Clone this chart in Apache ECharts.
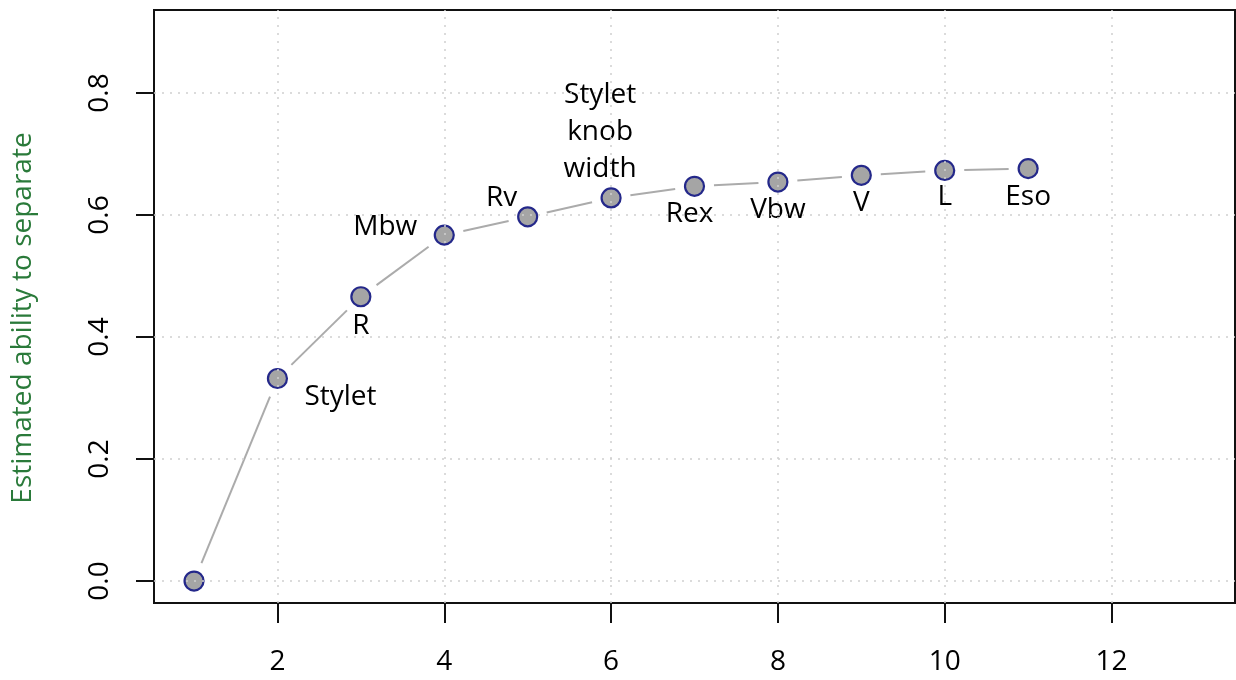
<!DOCTYPE html>
<html>
<head>
<meta charset="utf-8">
<script src="https://cdn.jsdelivr.net/npm/echarts@6/dist/echarts.min.js"></script>
<style>
html,body{margin:0;padding:0;background:#fff;}
#chart{width:1236px;height:680px;}
</style>
</head>
<body>
<div id="chart"></div>
<script>
// ---- data ----
const xValues = [1, 2, 3, 4, 5, 6, 7, 8, 9, 10, 11];
const yValues = [0, 0.332, 0.466, 0.567, 0.597, 0.628, 0.647, 0.654, 0.665, 0.673, 0.676];
const pointLabels = ['', 'Stylet', 'R', 'Mbw', 'Rv', 'Stylet\nknob\nwidth', 'Rex', 'Vbw', 'V', 'L', 'Eso'];
const xTicks = [2, 4, 6, 8, 10, 12];
const yTicks = [0, 0.2, 0.4, 0.6, 0.8];
const yTickLabels = ['0.0', '0.2', '0.4', '0.6', '0.8'];
const yTitle = 'Estimated ability to separate';

// ---- layout (label offsets in px, relative to point centre) ----
const labelOffsets = [[0,0],[63,19],[0,29],[-59,-8],[-26,-19],[-11,-66],[-5,28],[0,28],[0,28],[0,27],[0,28]];

const FONT = '"Open Sans", "Noto Sans", sans-serif';
const chart = echarts.init(document.getElementById('chart'), null, {renderer: 'canvas'});

const segs = [];
for (let i = 0; i < xValues.length - 1; i++) {
  segs.push([xValues[i], yValues[i], xValues[i + 1], yValues[i + 1]]);
}
const pts = xValues.map((x, i) => ({
  value: [x, yValues[i]],
  label: {
    show: pointLabels[i] !== '',
    formatter: pointLabels[i],
    offset: labelOffsets[i]
  }
}));

const gridLine = {color: '#cfcfcf', width: 1.5, type: [2, 6]};
const markLineData = xTicks.map(v => ({xAxis: v})).concat(yTicks.map(v => ({yAxis: v})));

const GAP = 19.5;
chart.setOption({
  backgroundColor: '#ffffff',
  animation: false,
  grid: {left: 154, right: 1, top: 10, bottom: 77, show: true, borderColor: '#111', borderWidth: 2, backgroundColor: 'transparent'},
  graphic: [{
    type: 'text', x: 23, y: 318, rotation: Math.PI / 2, silent: true,
    style: {text: yTitle, fill: '#2a7a3a', fontSize: 28, fontFamily: FONT, align: 'center', verticalAlign: 'middle'}
  }],
  xAxis: {
    type: 'value', min: 0.52, max: 13.48,
    axisLine: {show: true, onZero: false, lineStyle: {color: '#111', width: 2}},
    axisTick: {show: true, length: 20, lineStyle: {color: '#111', width: 2}, customValues: xTicks},
    axisLabel: {customValues: xTicks, margin: 45, fontSize: 28, color: '#000', fontFamily: FONT, formatter: v => String(v)},
    splitLine: {show: false}
  },
  yAxis: {
    type: 'value', min: -0.036, max: 0.936,
    axisLine: {show: true, onZero: false, lineStyle: {color: '#111', width: 2}},
    axisTick: {show: true, length: 18, lineStyle: {color: '#111', width: 2}, customValues: yTicks},
    axisLabel: {customValues: yTicks, rotate: 90, margin: 40, fontSize: 28, color: '#000', fontFamily: FONT,
      formatter: v => { const i = yTicks.findIndex(t => Math.abs(t - v) < 1e-9); return i >= 0 ? yTickLabels[i] : ''; }},
    splitLine: {show: false}
  },
  series: [
    {
      type: 'custom', z: 2, silent: true,
      encode: {x: [0, 2], y: [1, 3]},
      data: segs,
      renderItem: function (params, api) {
        const p1 = api.coord([api.value(0), api.value(1)]);
        const p2 = api.coord([api.value(2), api.value(3)]);
        const dx = p2[0] - p1[0], dy = p2[1] - p1[1];
        const len = Math.sqrt(dx * dx + dy * dy);
        if (len <= 2 * GAP) return null;
        const ux = dx / len, uy = dy / len;
        return {
          type: 'line',
          shape: {x1: p1[0] + ux * GAP, y1: p1[1] + uy * GAP, x2: p2[0] - ux * GAP, y2: p2[1] - uy * GAP},
          style: {stroke: '#ababab', lineWidth: 2}
        };
      },
      markLine: {
        silent: true, symbol: 'none', label: {show: false},
        lineStyle: gridLine,
        data: markLineData
      }
    },
    {
      type: 'scatter', z: 3,
      data: pts,
      symbol: 'circle', symbolSize: 19,
      itemStyle: {color: '#a5a5a5', borderColor: '#24288a', borderWidth: 2.2, opacity: 1},
      label: {position: 'inside', color: '#000', fontSize: 28, fontFamily: FONT, lineHeight: 37, align: 'center', verticalAlign: 'middle'},
      emphasis: {disabled: true}
    }
  ]
});
</script>
</body>
</html>
